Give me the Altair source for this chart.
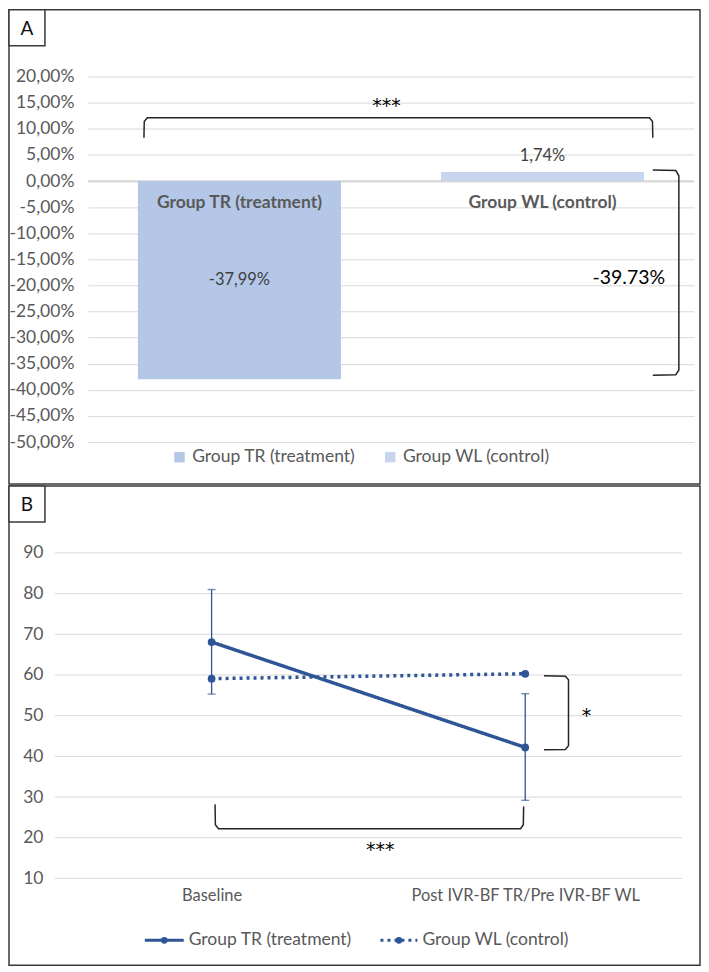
import json
import altair as alt
import pandas as pd

# ---------------- data: panel A ----------------
groups = ["Group TR (treatment)", "Group WL (control)"]
pct_change = [-37.99, 1.74]
bar_centre = [0.5, 1.5]
ticks_a = [20, 15, 10, 5, 0, -5, -10, -15, -20, -25, -30, -35, -40, -45, -50]
diff_text = "-39.73%"
diff_pos = [1.785, -18.5]
stars_a = "***"
stars_a_pos = [0.985, 14.3]
br_top_x = [0.185, 0.186, 0.196, 1.853, 1.863, 1.864]
br_top_y = [8.3, 11.4, 12.1, 12.1, 11.4, 8.3]
br_right_x = [1.864, 1.940, 1.950, 1.950, 1.940, 1.864]
br_right_y = [2.1, 2.0, 1.0, -36.2, -37.1, -37.2]

# ---------------- data: panel B ----------------
timepoints = ["Baseline", "Post IVR-BF TR/Pre IVR-BF WL"]
time_centre = [0.5, 1.5]
tr_mean = [68.1, 42.2]
tr_low = [55.3, 29.2]
tr_high = [81.0, 55.4]
wl_mean = [59.1, 60.3]
ticks_b = [10, 20, 30, 40, 50, 60, 70, 80, 90]
stars_b = "***"
stars_b_pos = [1.038, 17.0]
star_b = "*"
star_b_pos = [1.695, 49.9]
br_b_right_x = [1.560, 1.628, 1.638, 1.638, 1.628, 1.560]
br_b_right_y = [59.8, 59.7, 58.8, 42.6, 41.7, 41.6]
br_b_bottom_x = [0.511, 0.512, 0.522, 1.485, 1.494, 1.495]
br_b_bottom_y = [28.2, 23.2, 22.2, 22.2, 23.2, 27.7]

# ---------------- styles ----------------
FONT = "Lato"
STAR_FONT = "DejaVu Sans"
TXT = "#595959"
GRID = "#D9D9D9"
BLUE = "#2F5597"
TR_FILL = "#B4C7E7"
WL_FILL = "#C8D5EE"
INK = "#262626"
FRAME = "#3A3A3A"

WA, HA = 607, 366
WB, HB = 595, 326
B_XMIN = 0.1055  # left end of the panel-B x scale (gridlines start before the label column)

one = pd.DataFrame({"k": [0]})


def frame(left, top, right, bottom):
    return alt.Chart(one).mark_rect(filled=False, stroke=FRAME, strokeWidth=1.5).encode(
        x=alt.value(left), x2=alt.value(right), y=alt.value(top), y2=alt.value(bottom)
    )


def tag(letter, left, top, size=36):
    box = alt.Chart(one).mark_rect(fill="white", stroke=FRAME, strokeWidth=1.5).encode(
        x=alt.value(left), x2=alt.value(left + size), y=alt.value(top), y2=alt.value(top + size)
    )
    txt = alt.Chart(one).mark_text(font=FONT, fontSize=19, color="#111111", baseline="middle", align="center").encode(
        x=alt.value(left + size / 2), y=alt.value(top + size / 2 + 1), text=alt.value(letter)
    )
    return box + txt


def bracket_df(xs_list, ys_list):
    rows = []
    for b, (xs, ys) in enumerate(zip(xs_list, ys_list)):
        for i, (x, y) in enumerate(zip(xs, ys)):
            rows.append({"b": b, "i": i, "x": x, "y": y})
    return pd.DataFrame(rows)


# ================= Panel A =================
xA = alt.Scale(domain=[0, 2], nice=False, zero=False)
yA = alt.Scale(domain=[-50, 20], nice=False, zero=False)
pct_expr = "(datum.value < 0 ? '-' : '') + replace(format(abs(datum.value), '.2f'), '.', ',') + '%'"
axA = alt.Axis(values=ticks_a, labelExpr=pct_expr, title=None, grid=True, gridColor=GRID,
               domain=False, ticks=False, labelPadding=14)

dfA = pd.DataFrame({"group": groups, "value": pct_change, "centre": bar_centre})

bars = alt.Chart(dfA).transform_calculate(
    left="datum.centre - 0.335", right="datum.centre + 0.335", base="0"
).mark_rect().encode(
    x=alt.X("left:Q", scale=xA, axis=None),
    x2="right:Q",
    y=alt.Y("value:Q", scale=yA, axis=axA),
    y2="base:Q",
    color=alt.Color("group:N", scale=alt.Scale(domain=groups, range=[TR_FILL, WL_FILL]),
                    legend=alt.Legend(title=None, orient="none", legendX=83, legendY=372,
                                      direction="horizontal", symbolType="square", symbolSize=110,
                                      symbolStrokeWidth=0, labelFont=FONT, labelFontSize=17.5,
                                      labelColor=TXT, labelOffset=4, columnPadding=26,
                                      labelLimit=400)),
)

zero_line = alt.Chart(pd.DataFrame({"z": [0]})).mark_rule(color="#BFBFBF", strokeWidth=1.2).encode(
    y=alt.Y("z:Q", scale=yA, axis=axA), x=alt.value(0), x2=alt.value(WA)
)

lab_neg = alt.Chart(dfA).transform_filter("datum.value < 0").transform_calculate(
    lbl=pct_expr, ly="datum.value / 2"
).mark_text(font=FONT, fontSize=16.5, color="#404040", baseline="middle").encode(
    x=alt.X("centre:Q", scale=xA, axis=None), y=alt.Y("ly:Q", scale=yA, axis=axA), text="lbl:N"
)
lab_pos = alt.Chart(dfA).transform_filter("datum.value >= 0").transform_calculate(
    lbl=pct_expr
).mark_text(font=FONT, fontSize=16.5, color="#404040", baseline="middle", dy=-16).encode(
    x=alt.X("centre:Q", scale=xA, axis=None), y=alt.Y("value:Q", scale=yA, axis=axA), text="lbl:N"
)
cat_lab = alt.Chart(dfA).transform_calculate(base="0").mark_text(
    font=FONT, fontSize=17.5, fontWeight="bold", color=TXT, baseline="middle", dy=22
).encode(
    x=alt.X("centre:Q", scale=xA, axis=None), y=alt.Y("base:Q", scale=yA, axis=axA), text="group:N"
)

brA = alt.Chart(bracket_df([br_top_x, br_right_x], [br_top_y, br_right_y])).mark_line(
    color=INK, strokeWidth=1.5
).encode(
    x=alt.X("x:Q", scale=xA, axis=None), y=alt.Y("y:Q", scale=yA, axis=axA),
    detail="b:N", order="i:Q"
)

starsA = alt.Chart(pd.DataFrame({"t": [stars_a], "x": [stars_a_pos[0]], "y": [stars_a_pos[1]]})).mark_text(
    font=STAR_FONT, fontSize=19, color="#000000", baseline="middle"
).encode(x=alt.X("x:Q", scale=xA, axis=None), y=alt.Y("y:Q", scale=yA, axis=axA), text="t:N")
diffA = alt.Chart(pd.DataFrame({"t": [diff_text], "x": [diff_pos[0]], "y": [diff_pos[1]]})).mark_text(
    font=FONT, fontSize=19.5, color="#000000", baseline="middle"
).encode(x=alt.X("x:Q", scale=xA, axis=None), y=alt.Y("y:Q", scale=yA, axis=axA), text="t:N")

chartA = alt.layer(
    frame(-79, -67, 613, 408),
    zero_line, bars, lab_neg, lab_pos, cat_lab, brA, starsA, diffA,
    tag("A", -79, -67),
).properties(width=WA, height=HA)

# ================= Panel B =================
xB = alt.Scale(domain=[B_XMIN, 2], nice=False, zero=False)
yB = alt.Scale(domain=[10, 90], nice=False, zero=False)
axBx = alt.Axis(values=time_centre, labelExpr=json.dumps(timepoints) + "[floor(datum.value)]",
                title=None, domain=False, ticks=False, grid=False, labelPadding=9, labelLimit=0,
                labelFontSize=16.5)
axBy = alt.Axis(values=ticks_b, title=None, grid=False, domain=False, ticks=False,
                labelPadding=12, offset=33)

dfB = pd.DataFrame({
    "group": [groups[0]] * 2 + [groups[1]] * 2,
    "pos": time_centre * 2,
    "mean": tr_mean + wl_mean,
})
dfErr = pd.DataFrame({"pos": time_centre, "low": tr_low, "high": tr_high})

gridB = alt.Chart(pd.DataFrame({"g": ticks_b})).mark_rule(color=GRID, strokeWidth=1).encode(
    y=alt.Y("g:Q", scale=yB, axis=axBy), x=alt.value(-33), x2=alt.value(WB)
)
lines = alt.Chart(dfB).mark_line(color=BLUE, strokeWidth=3.5).encode(
    x=alt.X("pos:Q", scale=xB, axis=axBx),
    y=alt.Y("mean:Q", scale=yB, axis=axBy),
    strokeDash=alt.StrokeDash("group:N", scale=alt.Scale(domain=groups, range=[[1, 0], [3, 4]]), legend=None),
    detail="group:N",
)
err_rule = alt.Chart(dfErr).mark_rule(color=BLUE, strokeWidth=1.3).encode(
    x=alt.X("pos:Q", scale=xB, axis=axBx), y=alt.Y("low:Q", scale=yB, axis=axBy), y2="high:Q"
)
err_caps = alt.Chart(dfErr).transform_fold(["low", "high"], as_=["end", "v"]).mark_tick(
    color=BLUE, thickness=1.3, size=8, orient="horizontal"
).encode(
    x=alt.X("pos:Q", scale=xB, axis=axBx), y=alt.Y("v:Q", scale=yB, axis=axBy)
)
pts = alt.Chart(dfB).mark_circle(size=60, color=BLUE, opacity=1).encode(
    x=alt.X("pos:Q", scale=xB, axis=axBx), y=alt.Y("mean:Q", scale=yB, axis=axBy)
)

brB = alt.Chart(bracket_df([br_b_right_x, br_b_bottom_x], [br_b_right_y, br_b_bottom_y])).mark_line(
    color=INK, strokeWidth=1.5
).encode(
    x=alt.X("x:Q", scale=xB, axis=axBx), y=alt.Y("y:Q", scale=yB, axis=axBy),
    detail="b:N", order="i:Q"
)
notesB = pd.DataFrame({"t": [stars_b, star_b], "x": [stars_b_pos[0], star_b_pos[0]],
                       "y": [stars_b_pos[1], star_b_pos[1]]})
notesB_m = alt.Chart(notesB).mark_text(font=STAR_FONT, fontSize=19, color="#000000", baseline="middle").encode(
    x=alt.X("x:Q", scale=xB, axis=axBx), y=alt.Y("y:Q", scale=yB, axis=axBy), text="t:N"
)


def legend_entry(name, x0, x1, y, dash):
    ln = alt.Chart(one).mark_rule(color=BLUE, strokeWidth=3, strokeDash=dash).encode(
        x=alt.value(x0), x2=alt.value(x1), y=alt.value(y)
    )
    dot = alt.Chart(one).mark_circle(size=45, color=BLUE, opacity=1).encode(
        x=alt.value((x0 + x1) / 2), y=alt.value(y)
    )
    txt = alt.Chart(one).mark_text(font=FONT, fontSize=17.5, color=TXT, align="left", baseline="middle").encode(
        x=alt.value(x1 + 5), y=alt.value(y), text=alt.value(name)
    )
    return ln + dot + txt


chartB = alt.layer(
    frame(-79, -67, 613, 413),
    gridB, lines, err_rule, err_caps, pts, brB, notesB_m,
    legend_entry(groups[0], 57, 96, 388, [1, 0]),
    legend_entry(groups[1], 293, 330, 388, [3, 4]),
    tag("B", -79, -67),
).properties(width=WB, height=HB)

chart = alt.vconcat(chartA, chartB, spacing=0).properties(
    padding=0, background="white"
).configure_view(strokeWidth=0).configure_axis(
    labelFont=FONT, labelFontSize=17.5, labelColor=TXT
).configure_text(font=FONT)

chart.save("out.html", embed_options={"renderer": "svg", "actions": False})
